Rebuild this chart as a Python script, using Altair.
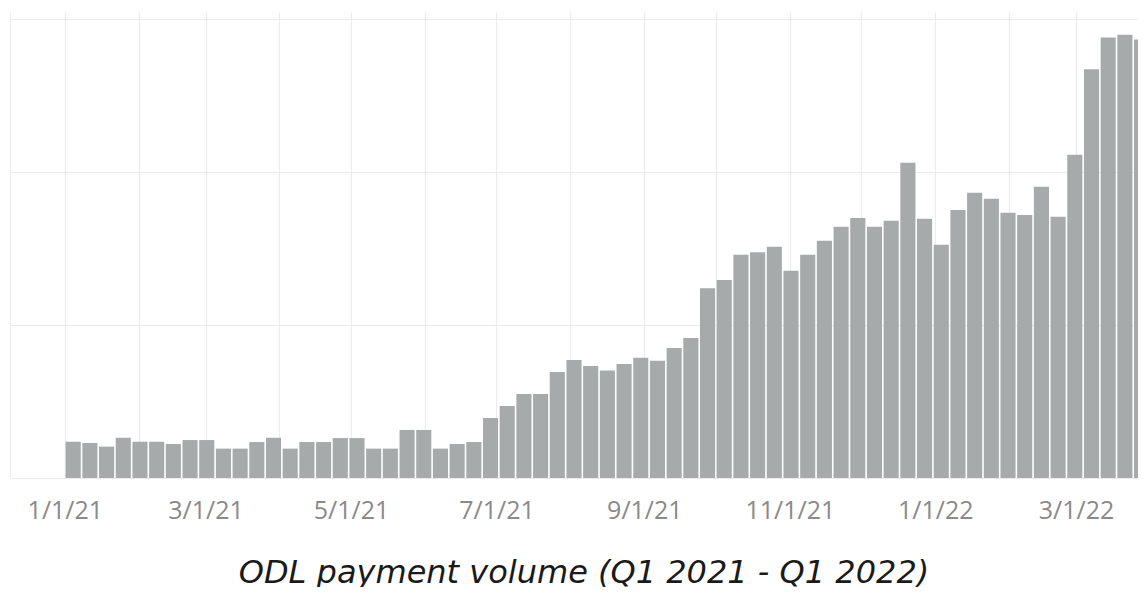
import altair as alt
import pandas as pd

# Weekly ODL payment volume (arbitrary units, y axis unlabeled)
week_starts = [d.strftime("%Y-%m-%d") for d in pd.date_range("2021-01-01", periods=65, freq="7D")]
week_ends = [d.strftime("%Y-%m-%d") for d in pd.date_range("2021-01-08", periods=65, freq="7D")]
volume = [
    23.7, 22.9, 20.5, 26.3, 23.7, 23.7, 22.2, 24.8, 24.8, 19.2,
    19.2, 23.5, 26.3, 19.2, 23.5, 23.5, 26.1, 26.1, 19.2, 19.2,
    31.4, 31.4, 19.2, 22.2, 23.5, 39.2, 47.1, 54.9, 54.9, 69.3,
    77.1, 73.2, 70.2, 74.5, 78.6, 76.7, 85.0, 91.5, 124.0, 129.4,
    146.0, 147.5, 151.2, 135.5, 146.0, 155.1, 164.3, 169.9, 164.3, 168.2,
    206.1, 169.5, 152.5, 175.2, 186.5, 182.6, 173.4, 171.9, 190.4, 170.8,
    211.3, 267.1, 288.0, 289.7, 286.7,
]
grid_months = [(2021, m) for m in range(1, 13)] + [(2022, m) for m in range(1, 4)]
y_grid = [0, 100, 200, 300]
title_text = "ODL payment volume (Q1 2021 - Q1 2022)"

df = pd.DataFrame({"start": week_starts, "end": week_ends, "value": volume})

grid_color = "#ececec"

chart = (
    alt.Chart(df)
    .mark_bar(color="#a7aaab", xOffset=0.8, x2Offset=-0.8, clip=True)
    .encode(
        x=alt.X(
            "start:T",
            scale=alt.Scale(
                type="utc",
                padding=0,
                domain=[
                    alt.DateTime(year=2020, month=12, date=9, utc=True),
                    alt.DateTime(year=2022, month=3, date=27, utc=True),
                ],
            ),
            axis=alt.Axis(
                values=[alt.DateTime(year=y, month=m, date=1, utc=True) for y, m in grid_months],
                labelExpr="utcmonth(datum.value) % 2 == 0 ? utcFormat(datum.value, '%-m/%-d/%y') : ''",
                grid=True,
                gridColor=grid_color,
                gridWidth=1.2,
                domain=False,
                ticks=False,
                tickSize=0,
                labelFont="Open Sans",
                labelFontSize=25,
                labelColor="#8a8a8a",
                labelBaseline="middle",
                labelPadding=32,
                labelOverlap=False,
                labelFlush=False,
                title=None,
            ),
        ),
        x2="end:T",
        y=alt.Y(
            "value:Q",
            scale=alt.Scale(domain=[0, 304.6], nice=False, padding=0),
            axis=alt.Axis(
                values=y_grid,
                labels=False,
                ticks=False,
                tickSize=0,
                domain=True,
                domainColor=grid_color,
                grid=True,
                gridColor=grid_color,
                gridWidth=1.2,
                title=None,
            ),
        ),
        y2=alt.datum(0),
    )
    .properties(
        width=1128,
        height=466,
        autosize=alt.AutoSizeParams(type="none"),
        padding={"left": 2, "top": 4, "right": 0, "bottom": 109},
        title=alt.TitleParams(
            text=title_text,
            orient="bottom",
            anchor="middle",
            frame="group",
            font="DejaVu Sans",
            fontSize=32,
            fontStyle="italic",
            fontWeight="normal",
            color="#1a1a1a",
            baseline="alphabetic",
            offset=60,
            dx=10,
        ),
    )
    .configure_view(strokeWidth=0)
)

chart.save("out.html", embed_options={"renderer": "svg", "actions": False})
